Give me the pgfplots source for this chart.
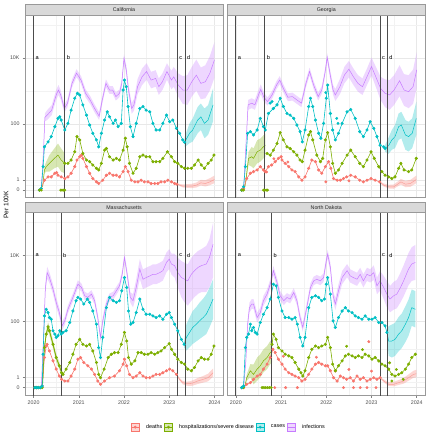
\documentclass[border=0pt]{standalone}
\usepackage{fontspec}
\setmainfont{Liberation Sans}
\usepackage{pgfplots}
\usepackage{pgfplotstable}
\pgfplotsset{compat=1.18}
\usepgfplotslibrary{fillbetween}
\definecolor{cD}{HTML}{F8766D}
\definecolor{cH}{HTML}{7CAE00}
\definecolor{cC}{HTML}{00BFC4}
\definecolor{cI}{HTML}{C77CFF}
\newcommand{\fs}{\fontsize{5.3}{6}\selectfont}
\pgfplotsset{panel/.style={
  scale only axis, width=198pt, height=182.7pt,
  xmin=2019.81, xmax=2024.19, ymin=-0.23, ymax=5.30,
  xtick={2020,2021,2022,2023,2024},
  xticklabels={2020,2021,2022,2023,2024},
  minor xtick={2020.5,2021.5,2022.5,2023.5},
  ytick={0,0.30103,2.00432,4.00004},
  yticklabels={0,1,100,10K},
  minor ytick={0.1505,1.1527,3.0022,5.0},
  grid=both,
  major grid style={color=black!9, line width=0.45pt},
  minor grid style={color=black!5, line width=0.3pt},
  axis line style={draw=black!40, line width=0.45pt},
  tick style={draw=black!50, line width=0.45pt},
  tick align=outside, major tick length=2.5pt, minor tick length=0pt,
  xtick pos=left, ytick pos=left,
  ticklabel style={font=\fs, text=black!70},
  xticklabel style={yshift=0.5pt},
  yticklabel style={xshift=0.5pt},
}}
\newcommand{\band}[4]{%
  \addplot[name path=#3u, draw=none, forget plot] table[x=x,y=hi]{#1};
  \addplot[name path=#3l, draw=none, forget plot] table[x=x,y=lo]{#1};
  \addplot[fill=#2, fill opacity=#4, draw=none, forget plot] fill between[of=#3u and #3l];}
\newcommand{\fit}[2]{\addplot[color=#2, line width=0.5pt, forget plot] table[x=x,y=y]{#1};}
\newcommand{\pts}[2]{\addplot[color=#2, line width=0.6pt, mark=*, mark size=1.25pt, mark options={draw=none, fill=#2}, forget plot] table[x=x,y=y]{#1};}
\newcommand{\xdots}[2]{\addplot[color=#2, only marks, mark=*, mark size=1.25pt, mark options={draw=none, fill=#2}, forget plot] table[x=x,y=y]{#1};}
\newcommand{\vl}[1]{\addplot[black!70, line width=1pt, forget plot] coordinates {(#1,-1) (#1,6)};}
\newcommand{\lab}[2]{\node[anchor=west, font=\fontsize{5.6}{6}\selectfont, inner sep=0pt, xshift=1.8pt] at (axis cs:#1,4.0) {#2};}

% ---------------- California ----------------
\pgfplotstableread{
x y lo hi
2020.17 0.00 0.00 0.00
2020.22 1.20 1.10 1.30
2020.25 2.20 2.08 2.32
2020.30 2.27 2.12 2.42
2020.40 2.42 2.27 2.57
2020.50 2.88 2.73 3.03
2020.55 3.03 2.88 3.18
2020.60 2.88 2.74 3.02
2020.68 2.47 2.35 2.59
2020.75 2.63 2.51 2.75
2020.85 3.23 3.11 3.35
2020.95 3.54 3.42 3.66
2021.05 3.33 3.21 3.45
2021.15 2.93 2.81 3.05
2021.25 2.73 2.61 2.85
2021.35 2.47 2.35 2.59
2021.45 2.24 2.12 2.36
2021.52 2.73 2.61 2.85
2021.60 3.23 3.11 3.35
2021.68 3.03 2.91 3.15
2021.75 3.03 2.91 3.15
2021.82 2.83 2.71 2.95
2021.90 2.93 2.81 3.05
2021.95 3.23 3.11 3.35
2022.00 3.99 3.87 4.11
2022.05 3.64 3.50 3.78
2022.10 3.03 2.88 3.18
2022.17 2.47 2.31 2.63
2022.22 2.58 2.40 2.76
2022.30 3.13 2.90 3.36
2022.40 3.43 3.18 3.68
2022.50 3.59 3.34 3.84
2022.60 3.33 3.08 3.58
2022.70 3.38 3.13 3.63
2022.77 3.13 2.88 3.38
2022.85 3.28 3.03 3.53
2022.95 3.59 3.34 3.84
2023.05 3.33 3.05 3.61
2023.10 3.43 3.13 3.73
2023.20 3.18 2.83 3.53
2023.30 3.03 2.61 3.45
2023.40 3.03 2.58 3.48
2023.50 3.28 2.83 3.73
2023.60 3.48 3.01 3.95
2023.70 3.23 2.75 3.71
2023.80 3.28 2.78 3.78
2023.90 3.54 3.02 4.06
2024.00 3.94 3.40 4.48
}\CAinf
\pgfplotstableread{
x y
2020.13 0.00
2020.17 0.05
2020.21 0.71
2020.24 1.31
2020.32 1.46
2020.39 1.62
2020.47 1.92
2020.54 2.17
2020.58 2.22
2020.61 2.12
2020.69 1.82
2020.76 2.02
2020.83 2.42
2020.91 2.78
2020.97 2.93
2021.02 2.88
2021.09 2.58
2021.17 2.27
2021.24 1.97
2021.31 1.72
2021.39 1.52
2021.44 1.31
2021.50 1.72
2021.57 2.12
2021.63 2.37
2021.68 2.22
2021.76 2.02
2021.81 2.12
2021.87 1.92
2021.94 2.02
2021.98 3.03
2022.01 3.33
2022.05 3.13
2022.09 2.53
2022.14 1.92
2022.20 1.62
2022.27 2.02
2022.35 2.47
2022.42 2.53
2022.49 2.42
2022.57 2.37
2022.64 2.02
2022.71 1.82
2022.79 1.82
2022.86 2.02
2022.94 2.27
2023.01 2.07
2023.08 2.12
2023.16 1.87
2023.23 1.72
2023.30 1.52
2023.34 1.45
}\CAc
\pgfplotstableread{
x y lo hi
2023.34 1.45 1.30 1.60
2023.45 1.72 1.42 2.02
2023.52 1.82 1.47 2.17
2023.63 2.12 1.72 2.52
2023.70 2.22 1.82 2.62
2023.78 2.02 1.57 2.47
2023.86 2.12 1.67 2.57
2023.97 2.58 2.08 3.08
}\CAcf
\pgfplotstableread{
x y lo hi
2020.20 0.10 0.10 0.10
2020.24 0.61 0.51 0.71
2020.28 0.71 0.56 0.86
2020.35 0.81 0.56 1.06
2020.46 0.96 0.66 1.26
2020.54 1.06 0.71 1.41
2020.61 0.91 0.56 1.26
2020.69 0.81 0.51 1.11
}\CAhe
\pgfplotstableread{
x y
2020.69 0.81
2020.76 0.81
2020.83 0.91
2020.91 1.16
2020.96 1.62
2021.02 1.52
2021.09 1.11
2021.17 0.91
2021.24 0.86
2021.31 0.76
2021.39 0.66
2021.44 0.61
2021.50 0.81
2021.57 1.21
2021.61 1.26
2021.68 1.01
2021.76 0.91
2021.83 0.96
2021.90 0.91
2021.98 1.21
2022.03 1.57
2022.07 1.31
2022.12 0.81
2022.20 0.51
2022.27 0.66
2022.35 1.01
2022.42 1.06
2022.49 1.01
2022.57 1.01
2022.64 0.86
2022.71 0.86
2022.79 0.86
2022.86 0.96
2022.96 1.16
2023.05 1.01
2023.12 0.86
2023.19 0.81
2023.27 0.71
2023.34 0.66
2023.41 0.66
2023.49 0.66
2023.56 0.76
2023.64 0.91
2023.71 0.76
2023.78 0.66
2023.86 0.81
2023.93 0.91
2023.99 1.06
}\CAh
\pgfplotstableread{
x y
2020.13 0.00
2020.17 0.00
2020.60 0.00
2020.63 0.00
2020.66 0.00
2020.69 0.00
}\CAhz
\pgfplotstableread{
x y
2020.13 0.00
2020.17 0.05
2020.24 0.30
2020.32 0.40
2020.39 0.40
2020.47 0.51
2020.51 0.53
2020.54 0.45
2020.61 0.40
2020.69 0.35
2020.76 0.40
2020.83 0.51
2020.91 0.71
2020.96 0.91
2021.02 1.01
2021.06 1.06
2021.09 0.96
2021.17 0.71
2021.24 0.51
2021.31 0.35
2021.39 0.25
2021.44 0.20
2021.53 0.30
2021.61 0.45
2021.68 0.51
2021.76 0.45
2021.83 0.45
2021.90 0.40
2021.98 0.56
2022.03 0.71
2022.09 0.56
2022.16 0.30
2022.24 0.25
2022.31 0.25
2022.38 0.30
2022.45 0.25
2022.53 0.25
2022.60 0.20
2022.68 0.20
2022.75 0.20
2022.82 0.25
2022.90 0.25
2022.97 0.30
2023.05 0.25
2023.12 0.20
2023.17 0.18
}\CAd
\pgfplotstableread{
x y lo hi
2023.17 0.18 0.16 0.20
2023.30 0.12 0.08 0.17
2023.40 0.12 0.07 0.18
2023.50 0.12 0.06 0.19
2023.60 0.15 0.08 0.23
2023.70 0.22 0.14 0.31
2023.80 0.20 0.11 0.30
2023.90 0.25 0.15 0.36
2024.00 0.32 0.21 0.44
}\CAdf

% ---------------- Georgia ----------------
\pgfplotstableread{
x y lo hi
2020.17 0.00 0.00 0.00
2020.22 1.30 1.20 1.40
2020.27 2.58 2.43 2.73
2020.35 2.63 2.48 2.78
2020.42 2.58 2.43 2.73
2020.50 2.88 2.73 3.03
2020.55 3.05 2.90 3.20
2020.62 2.81 2.67 2.95
2020.70 2.68 2.56 2.80
2020.80 2.88 2.76 3.00
2020.90 3.18 3.06 3.30
2020.97 3.33 3.21 3.45
2021.05 3.08 2.96 3.20
2021.15 2.81 2.69 2.93
2021.25 2.83 2.71 2.95
2021.35 2.73 2.61 2.85
2021.45 2.63 2.51 2.75
2021.55 3.23 3.11 3.35
2021.63 3.59 3.47 3.71
2021.72 3.18 3.06 3.30
2021.82 2.83 2.71 2.95
2021.90 3.03 2.91 3.15
2021.97 3.54 3.42 3.66
2022.02 4.02 3.90 4.14
2022.08 3.54 3.40 3.68
2022.15 3.03 2.88 3.18
2022.20 2.88 2.70 3.06
2022.30 3.13 2.90 3.36
2022.40 3.48 3.23 3.73
2022.50 3.66 3.41 3.91
2022.60 3.43 3.18 3.68
2022.70 3.23 2.98 3.48
2022.80 3.13 2.88 3.38
2022.90 3.43 3.18 3.68
2023.00 3.74 3.47 4.01
2023.08 3.48 3.18 3.78
2023.20 3.08 2.73 3.43
2023.30 2.93 2.51 3.35
2023.40 2.88 2.43 3.33
2023.50 3.03 2.58 3.48
2023.62 3.31 2.84 3.78
2023.72 3.03 2.55 3.51
2023.82 2.98 2.48 3.48
2023.92 3.13 2.61 3.65
2024.00 3.64 3.10 4.18
}\GAinf
\pgfplotstableread{
x y
2020.13 0.00
2020.17 0.10
2020.21 0.71
2020.26 1.72
2020.32 1.77
2020.39 1.67
2020.47 1.82
2020.54 2.17
2020.61 1.92
2020.65 1.82
2020.72 2.32
2020.83 2.47
2020.91 2.58
2020.98 2.78
2021.05 2.53
2021.13 2.32
2021.20 2.27
2021.28 2.17
2021.35 1.97
2021.42 1.77
2021.47 1.46
2021.53 1.82
2021.61 2.53
2021.65 2.78
2021.70 2.53
2021.76 2.12
2021.83 1.72
2021.88 1.57
2021.94 2.02
2022.00 2.78
2022.03 3.18
2022.09 2.32
2022.14 1.82
2022.20 1.52
2022.27 1.72
2022.35 2.02
2022.46 2.37
2022.54 2.44
2022.64 2.17
2022.74 1.77
2022.82 1.62
2022.90 1.82
2022.97 2.07
2023.05 1.87
2023.12 1.62
2023.19 1.36
2023.27 1.31
2023.30 1.26
}\GAc
\pgfplotstableread{
x y
2020.76 2.63
2020.80 2.68
2022.23 2.17
2022.26 2.02
2021.99 2.95
}\GAcx
\pgfplotstableread{
x y lo hi
2023.30 1.26 1.16 1.36
2023.38 1.35 1.10 1.60
2023.45 1.52 1.22 1.82
2023.52 1.62 1.27 1.97
2023.60 1.92 1.52 2.32
2023.66 1.97 1.57 2.37
2023.75 1.67 1.22 2.12
2023.82 1.62 1.17 2.07
2023.90 1.72 1.27 2.17
2023.99 2.17 1.67 2.67
}\GAcf
\pgfplotstableread{
x y lo hi
2020.20 0.10 0.10 0.10
2020.23 0.40 0.30 0.50
2020.28 0.96 0.76 1.16
2020.35 1.01 0.71 1.31
2020.39 0.96 0.66 1.26
2020.47 1.16 0.81 1.51
2020.54 1.21 0.86 1.56
2020.61 1.31 0.96 1.66
2020.65 1.36 1.01 1.71
}\GAhe
\pgfplotstableread{
x y
2020.69 1.11
2020.76 1.06
2020.83 1.21
2020.91 1.41
2020.98 1.74
2021.05 1.52
2021.13 1.31
2021.20 1.26
2021.28 1.16
2021.35 1.06
2021.42 0.91
2021.47 0.86
2021.53 1.21
2021.61 1.67
2021.65 1.77
2021.70 1.52
2021.79 1.06
2021.87 0.86
2021.92 0.96
2021.98 1.52
2022.03 1.74
2022.09 1.31
2022.14 0.81
2022.20 0.51
2022.27 0.61
2022.35 0.81
2022.46 1.06
2022.54 1.21
2022.64 1.01
2022.74 0.81
2022.82 0.71
2022.90 0.91
2022.99 1.16
2023.06 0.96
2023.16 0.71
2023.23 0.56
2023.30 0.45
2023.38 0.40
2023.45 0.35
2023.52 0.40
2023.60 0.66
2023.65 0.81
2023.72 0.61
2023.82 0.56
2023.89 0.61
2023.99 0.96
}\GAh
\pgfplotstableread{
x y
2020.13 0.00
2020.17 0.00
2020.61 0.00
2020.64 0.00
2020.67 0.00
2020.70 0.00
}\GAhz
\pgfplotstableread{
x y
2020.13 0.00
2020.17 0.05
2020.24 0.35
2020.32 0.51
2020.39 0.56
2020.47 0.61
2020.54 0.71
2020.61 0.61
2020.65 0.56
2020.72 0.71
2020.79 0.76
2020.87 0.86
2020.94 0.96
2021.00 1.01
2021.02 0.91
2021.09 0.81
2021.17 0.71
2021.24 0.61
2021.31 0.56
2021.39 0.40
2021.46 0.30
2021.53 0.40
2021.61 0.66
2021.68 0.91
2021.76 0.86
2021.83 0.61
2021.90 0.51
2021.98 0.71
2022.05 0.86
2022.10 0.66
2022.16 0.35
2022.24 0.30
2022.31 0.30
2022.38 0.35
2022.45 0.40
2022.54 0.45
2022.64 0.40
2022.74 0.30
2022.82 0.25
2022.90 0.30
2022.99 0.35
2023.08 0.30
2023.18 0.25
}\GAd
\pgfplotstableread{
x y
2020.84 0.95
2021.99 0.25
2020.68 0.55
2021.15 0.85
2022.50 0.28
}\GAdx
\pgfplotstableread{
x y lo hi
2023.18 0.25 0.23 0.27
2023.27 0.15 0.11 0.20
2023.38 0.10 0.05 0.16
2023.49 0.10 0.04 0.17
2023.60 0.20 0.13 0.28
2023.65 0.25 0.17 0.34
2023.75 0.18 0.09 0.28
2023.86 0.20 0.10 0.31
2023.99 0.32 0.21 0.44
}\GAdf

% ---------------- Massachusetts ----------------
\pgfplotstableread{
x y lo hi
2020.17 0.00 0.00 0.00
2020.22 1.50 1.40 1.60
2020.26 3.00 2.85 3.15
2020.30 3.48 3.30 3.66
2020.35 3.33 3.17 3.49
2020.43 2.98 2.83 3.13
2020.50 2.58 2.43 2.73
2020.57 2.27 2.13 2.41
2020.63 1.87 1.74 2.00
2020.69 2.02 1.90 2.14
2020.76 2.37 2.25 2.49
2020.87 2.73 2.61 2.85
2020.98 3.13 3.01 3.25
2021.06 3.03 2.91 3.15
2021.13 2.78 2.66 2.90
2021.20 2.73 2.61 2.85
2021.28 2.83 2.71 2.95
2021.35 2.63 2.51 2.75
2021.42 2.12 2.00 2.24
2021.48 1.52 1.40 1.64
2021.53 2.02 1.90 2.14
2021.61 2.53 2.41 2.65
2021.68 2.73 2.61 2.85
2021.76 2.78 2.66 2.90
2021.83 2.93 2.81 3.05
2021.90 3.08 2.96 3.20
2021.96 3.43 3.31 3.55
2022.01 3.94 3.82 4.06
2022.07 3.43 3.29 3.57
2022.14 2.73 2.57 2.89
2022.20 2.63 2.43 2.83
2022.27 3.03 2.78 3.28
2022.35 3.59 3.29 3.89
2022.42 3.28 2.98 3.58
2022.49 3.33 3.03 3.63
2022.57 3.38 3.08 3.68
2022.64 3.43 3.13 3.73
2022.71 3.43 3.13 3.73
2022.79 3.48 3.18 3.78
2022.86 3.54 3.24 3.84
2022.94 3.79 3.49 4.09
2023.00 3.89 3.59 4.19
2023.05 3.74 3.42 4.06
2023.12 3.69 3.33 4.05
2023.19 3.48 3.03 3.93
2023.27 3.33 2.73 3.83
2023.34 3.28 2.58 3.78
2023.41 3.23 2.48 3.73
2023.49 3.43 2.63 3.93
2023.56 3.54 2.74 4.04
2023.64 3.64 2.84 4.14
2023.71 3.69 2.89 4.19
2023.82 3.74 2.89 4.29
2023.89 3.94 3.04 4.49
2023.97 4.34 3.34 4.99
}\MAinf
\pgfplotstableread{
x y
2020.03 0.00
2020.07 0.00
2020.11 0.00
2020.15 0.00
2020.19 0.05
2020.21 1.01
2020.24 2.17
2020.28 2.37
2020.32 2.27
2020.35 2.12
2020.39 2.07
2020.43 1.72
2020.47 1.62
2020.50 1.52
2020.54 1.57
2020.58 1.72
2020.61 1.62
2020.65 1.67
2020.72 1.72
2020.80 1.97
2020.87 2.32
2020.94 2.63
2020.98 2.73
2021.04 2.68
2021.11 2.53
2021.19 2.68
2021.24 2.58
2021.31 2.32
2021.39 1.92
2021.44 1.21
2021.48 0.91
2021.53 1.52
2021.61 2.42
2021.68 2.73
2021.76 2.63
2021.83 2.58
2021.90 2.63
2021.95 2.93
2022.01 3.33
2022.06 3.03
2022.10 2.32
2022.15 1.92
2022.20 1.97
2022.27 2.27
2022.35 2.68
2022.42 2.37
2022.49 2.22
2022.57 2.22
2022.64 2.17
2022.71 2.12
2022.79 2.17
2022.86 2.07
2022.94 2.22
2023.00 2.27
2023.05 2.12
2023.12 1.92
2023.19 1.72
2023.27 1.46
2023.33 1.31
}\MAc
\pgfplotstableread{
x y lo hi
2023.33 1.31 1.21 1.41
2023.38 1.52 1.12 1.92
2023.45 1.67 1.22 2.12
2023.52 1.82 1.32 2.32
2023.60 1.92 1.40 2.44
2023.67 2.02 1.47 2.57
2023.75 2.12 1.55 2.69
2023.82 2.22 1.62 2.82
2023.89 2.42 1.82 3.02
2023.97 2.68 2.08 3.28
}\MAcf
\pgfplotstableread{
x y lo hi
2020.20 0.05 0.05 0.05
2020.24 1.21 1.11 1.31
2020.28 1.62 1.50 1.74
2020.32 1.84 1.70 1.98
2020.35 1.72 1.58 1.86
2020.43 1.31 1.18 1.44
2020.50 0.91 0.79 1.03
2020.57 0.66 0.55 0.77
2020.62 0.45 0.35 0.55
}\MAhe
\pgfplotstableread{
x y
2020.03 0.00
2020.07 0.00
2020.11 0.00
2020.15 0.00
2020.19 0.00
2020.24 1.21
2020.28 1.62
2020.32 1.84
2020.35 1.72
2020.43 1.31
2020.50 0.91
2020.57 0.66
2020.62 0.45
2020.65 0.40
2020.72 0.56
2020.80 0.76
2020.87 1.01
2020.94 1.31
2021.02 1.46
2021.09 1.31
2021.17 1.26
2021.24 1.31
2021.31 1.11
2021.39 0.76
2021.44 0.40
2021.48 0.30
2021.56 0.56
2021.65 0.91
2021.72 1.01
2021.79 1.06
2021.87 1.06
2021.94 1.31
2022.01 1.67
2022.06 1.41
2022.10 0.91
2022.16 0.71
2022.24 0.81
2022.31 1.06
2022.38 1.06
2022.45 1.01
2022.53 1.01
2022.60 1.06
2022.68 1.01
2022.75 1.06
2022.82 1.11
2022.90 1.21
2023.00 1.33
2023.05 1.16
2023.12 1.01
2023.19 0.86
2023.27 0.76
2023.34 0.71
2023.41 0.56
2023.49 0.51
2023.56 0.61
2023.64 0.81
2023.71 0.91
2023.78 0.86
2023.86 0.86
2023.93 1.01
2023.99 1.26
}\MAh
\pgfplotstableread{
x y
2020.03 0.00
2020.07 0.00
2020.11 0.00
2020.15 0.00
2020.19 0.05
2020.24 0.91
2020.28 1.26
2020.30 1.31
2020.35 1.11
2020.43 0.81
2020.50 0.56
2020.57 0.35
2020.62 0.25
2020.69 0.20
2020.76 0.20
2020.83 0.35
2020.91 0.56
2020.98 0.86
2021.04 0.91
2021.11 0.76
2021.20 0.66
2021.28 0.56
2021.35 0.40
2021.42 0.20
2021.48 0.10
2021.57 0.20
2021.68 0.30
2021.79 0.35
2021.90 0.51
2021.98 0.71
2022.01 0.86
2022.06 0.66
2022.12 0.40
2022.20 0.30
2022.27 0.35
2022.35 0.45
2022.42 0.35
2022.49 0.30
2022.57 0.30
2022.64 0.35
2022.71 0.40
2022.79 0.40
2022.86 0.45
2022.94 0.51
2023.01 0.56
2023.08 0.51
2023.16 0.40
}\MAd
\pgfplotstableread{
x y lo hi
2023.16 0.40 0.38 0.42
2023.23 0.25 0.21 0.29
2023.30 0.15 0.10 0.20
2023.38 0.12 0.06 0.18
2023.45 0.12 0.05 0.19
2023.52 0.14 0.06 0.22
2023.63 0.20 0.11 0.29
2023.75 0.25 0.15 0.35
2023.86 0.30 0.19 0.42
2023.97 0.45 0.33 0.58
}\MAdf

% ---------------- North Dakota ----------------
\pgfplotstableread{
x y lo hi
2020.17 0.00 0.00 0.00
2020.22 0.80 0.70 0.90
2020.26 1.92 1.77 2.07
2020.30 2.42 2.27 2.57
2020.35 2.53 2.38 2.68
2020.39 2.53 2.38 2.68
2020.47 2.12 1.97 2.27
2020.54 2.27 2.12 2.42
2020.61 2.63 2.48 2.78
2020.69 2.83 2.68 2.98
2020.76 3.13 2.99 3.27
2020.83 3.54 3.40 3.68
2020.91 3.18 3.04 3.32
2020.98 2.78 2.64 2.92
2021.06 2.63 2.50 2.76
2021.13 2.73 2.60 2.86
2021.20 2.68 2.55 2.81
2021.28 2.88 2.75 3.01
2021.35 2.63 2.50 2.76
2021.42 2.12 1.99 2.25
2021.48 1.82 1.69 1.95
2021.56 2.37 2.24 2.50
2021.65 3.03 2.90 3.16
2021.72 3.23 3.10 3.36
2021.79 3.28 3.15 3.41
2021.87 3.23 3.10 3.36
2021.94 3.33 3.20 3.46
2022.00 3.84 3.71 3.97
2022.03 4.04 3.91 4.17
2022.09 3.64 3.50 3.78
2022.15 2.78 2.63 2.93
2022.20 2.53 2.35 2.71
2022.27 2.93 2.73 3.13
2022.35 3.33 3.13 3.53
2022.46 3.54 3.34 3.74
2022.53 3.38 3.18 3.58
2022.60 3.33 3.13 3.53
2022.68 3.28 3.08 3.48
2022.75 3.43 3.23 3.63
2022.82 3.23 3.03 3.43
2022.90 3.43 3.23 3.63
2022.97 3.38 3.18 3.58
2023.05 3.48 3.26 3.70
2023.12 3.08 2.83 3.33
2023.19 3.23 2.93 3.53
2023.27 3.03 2.68 3.38
2023.34 2.83 2.43 3.23
2023.41 2.68 2.28 3.08
2023.49 2.78 2.36 3.20
2023.56 2.83 2.40 3.26
2023.64 3.03 2.58 3.48
2023.71 3.23 2.76 3.70
2023.82 3.59 3.10 4.08
2023.89 3.74 3.23 4.25
2023.97 3.79 3.26 4.32
}\NDinf
\pgfplotstableread{
x y
2020.13 0.00
2020.17 0.05
2020.21 1.21
2020.24 1.52
2020.28 1.62
2020.32 1.92
2020.35 1.72
2020.39 1.82
2020.43 1.67
2020.47 1.62
2020.54 1.97
2020.61 2.22
2020.69 2.42
2020.76 2.68
2020.83 3.13
2020.89 3.08
2020.94 2.73
2021.02 2.32
2021.09 2.12
2021.17 2.12
2021.24 2.07
2021.31 2.12
2021.36 1.92
2021.42 1.52
2021.48 1.26
2021.53 1.52
2021.61 2.42
2021.68 2.73
2021.76 2.78
2021.83 2.73
2021.90 2.63
2021.96 2.68
2022.00 3.13
2022.03 3.33
2022.09 2.83
2022.15 2.02
2022.20 1.82
2022.27 2.12
2022.35 2.32
2022.42 2.42
2022.49 2.32
2022.57 2.27
2022.64 2.17
2022.71 2.12
2022.79 2.07
2022.86 2.17
2022.94 2.07
2023.01 2.07
2023.08 2.12
2023.16 1.97
2023.23 1.97
2023.30 1.87
2023.34 1.67
}\NDc
\pgfplotstableread{
x y lo hi
2023.34 1.67 1.57 1.77
2023.38 1.41 0.96 1.86
2023.45 1.41 0.91 1.91
2023.52 1.46 0.96 1.96
2023.60 1.62 1.10 2.14
2023.67 1.72 1.20 2.24
2023.75 1.92 1.38 2.46
2023.82 2.12 1.57 2.67
2023.89 2.42 1.87 2.97
2023.97 2.37 1.82 2.92
}\NDcf
\pgfplotstableread{
x y lo hi
2020.20 0.05 0.05 0.05
2020.24 0.30 0.20 0.40
2020.32 0.51 0.31 0.71
2020.39 0.40 0.10 0.70
2020.47 0.56 0.21 0.91
2020.54 0.66 0.31 1.01
2020.61 0.81 0.46 1.16
2020.69 0.91 0.56 1.26
2020.76 1.06 0.71 1.41
2020.80 1.11 0.76 1.46
}\NDhe
\pgfplotstableread{
x y
2020.80 1.31
2020.83 1.62
2020.89 1.46
2020.94 1.21
2021.02 1.11
2021.09 1.01
2021.17 0.96
2021.24 0.91
2021.31 0.76
2021.39 0.56
2021.44 0.45
2021.48 0.35
2021.53 0.51
2021.61 0.91
2021.68 1.16
2021.76 1.26
2021.83 1.21
2021.90 1.26
2021.98 1.31
2022.03 1.52
2022.09 1.21
2022.14 0.71
2022.20 0.51
2022.27 0.66
2022.35 0.81
2022.42 0.96
2022.49 1.01
2022.57 0.96
2022.64 0.91
2022.71 0.96
2022.79 0.91
2022.86 1.01
2022.94 0.96
2023.01 0.86
2023.08 0.91
2023.16 0.81
2023.23 0.71
2023.30 0.66
2023.38 0.56
2023.45 0.40
2023.52 0.35
2023.60 0.40
2023.67 0.45
2023.75 0.56
2023.82 0.71
2023.89 0.91
2023.97 1.01
}\NDh
\pgfplotstableread{
x y
2020.13 0.00
2020.17 0.00
2020.58 0.00
2020.62 0.00
2020.66 0.00
2020.70 0.00
2020.74 0.00
2020.78 0.00
2022.45 1.25
2022.80 1.15
2023.45 0.20
2023.55 0.55
2023.70 0.25
2023.40 0.75
}\NDhx
\pgfplotstableread{
x y
2020.13 0.00
2020.17 0.00
2020.24 0.10
2020.32 0.15
2020.39 0.25
2020.47 0.35
2020.54 0.40
2020.61 0.56
2020.69 0.71
2020.76 0.91
2020.82 1.16
2020.87 1.06
2020.94 0.86
2021.02 0.71
2021.09 0.56
2021.17 0.45
2021.24 0.40
2021.31 0.35
2021.39 0.30
2021.46 0.20
2021.53 0.25
2021.61 0.40
2021.68 0.56
2021.76 0.71
2021.83 0.76
2021.90 0.71
2021.98 0.66
2022.03 0.66
2022.09 0.51
2022.16 0.30
2022.24 0.20
2022.31 0.35
2022.38 0.30
2022.45 0.25
2022.53 0.30
2022.60 0.20
2022.68 0.35
2022.75 0.25
2022.82 0.30
2022.90 0.20
2022.97 0.25
2023.05 0.30
2023.12 0.25
2023.19 0.30
}\NDd
\pgfplotstableread{
x y
2020.86 0.00
2021.10 0.00
2021.36 0.00
2022.38 0.00
2022.60 0.00
2022.75 0.00
2022.90 0.00
2023.10 0.00
2022.94 1.39
2021.05 0.95
2021.78 0.92
2022.50 0.55
2023.00 0.50
2022.20 0.50
}\NDdx
\pgfplotstableread{
x y lo hi
2023.19 0.30 0.28 0.32
2023.27 0.20 0.16 0.25
2023.38 0.10 0.05 0.16
2023.49 0.10 0.04 0.17
2023.60 0.15 0.08 0.23
2023.71 0.20 0.12 0.29
2023.82 0.30 0.21 0.40
2023.93 0.40 0.30 0.51
2023.99 0.42 0.31 0.54
}\NDdf

\begin{document}
\begin{tikzpicture}

% ===== California =====
\begin{axis}[panel, name=ca, at={(25pt,-15pt)}, anchor=north west,
  xticklabels={}, xtick style={draw=none}]
\band{\CAinf}{cI}{ia}{0.3}
\band{\CAcf}{cC}{ca}{0.3}
\band{\CAhe}{cH}{ha}{0.3}
\band{\CAdf}{cD}{da}{0.3}
\fit{\CAinf}{cI}
\fit{\CAcf}{cC}
\fit{\CAhe}{cH}
\fit{\CAdf}{cD!70}
\pts{\CAd}{cD}
\pts{\CAh}{cH}
\pts{\CAc}{cC}
\xdots{\CAhz}{cH}
\vl{2020.0}\vl{2020.69}\vl{2023.18}\vl{2023.35}
\lab{2020.0}{a}\lab{2020.69}{b}\lab{2023.18}{c}\lab{2023.35}{d}
\end{axis}

% ===== Georgia =====
\begin{axis}[panel, name=ga, at={(227.3pt,-15pt)}, anchor=north west,
  xticklabels={}, xtick style={draw=none}, yticklabels={}, ytick style={draw=none}]
\band{\GAinf}{cI}{ia}{0.3}
\band{\GAcf}{cC}{ca}{0.3}
\band{\GAhe}{cH}{ha}{0.3}
\band{\GAdf}{cD}{da}{0.3}
\fit{\GAinf}{cI}
\fit{\GAcf}{cC}
\fit{\GAhe}{cH}
\fit{\GAdf}{cD!70}
\pts{\GAd}{cD}
\xdots{\GAdx}{cD}
\pts{\GAh}{cH}
\pts{\GAc}{cC}
\xdots{\GAcx}{cC}
\xdots{\GAhz}{cH}
\vl{2020.0}\vl{2020.64}\vl{2023.19}\vl{2023.35}
\lab{2020.0}{a}\lab{2020.64}{b}\lab{2023.19}{c}\lab{2023.35}{d}
\end{axis}

% ===== Massachusetts =====
\begin{axis}[panel, name=ma, at={(25pt,-212.5pt)}, anchor=north west,
  legend style={at={(1.03,-0.175)}, anchor=center, legend columns=4, draw=none, fill=none,
    font=\fontsize{5.4}{6}\selectfont, inner sep=0pt,
    /tikz/every odd column/.append style={column sep=4.5pt}},
  legend cell align=left]
\band{\MAinf}{cI}{ia}{0.3}
\band{\MAcf}{cC}{ca}{0.3}
\band{\MAhe}{cH}{ha}{0.3}
\band{\MAdf}{cD}{da}{0.3}
\fit{\MAinf}{cI}
\fit{\MAcf}{cC}
\fit{\MAhe}{cH}
\fit{\MAdf}{cD!70}
\pts{\MAd}{cD}
\pts{\MAh}{cH}
\pts{\MAc}{cC}
\vl{2020.0}\vl{2020.61}\vl{2023.18}\vl{2023.35}
\lab{2020.0}{a}\lab{2020.61}{b}\lab{2023.18}{c}\lab{2023.35}{d}
\addlegendimage{legend image code/.code={\fill[cD,fill opacity=0.3](0pt,-4pt) rectangle (8pt,4pt);\draw[cD,line width=0.5pt](0pt,0pt)--(8pt,0pt);\fill[cD](4pt,0pt) circle (1.2pt);}}
\addlegendentry{deaths}
\addlegendimage{legend image code/.code={\fill[cH,fill opacity=0.3](0pt,-4pt) rectangle (8pt,4pt);\draw[cH,line width=0.5pt](0pt,0pt)--(8pt,0pt);\fill[cH](4pt,0pt) circle (1.2pt);}}
\addlegendentry{hospitalizations/severe disease}
\addlegendimage{legend image code/.code={\fill[cC,fill opacity=0.3](0pt,-4pt) rectangle (8pt,4pt);\draw[cC,line width=0.5pt](0pt,0pt)--(8pt,0pt);\fill[cC](4pt,0pt) circle (1.2pt);}}
\addlegendentry{cases}
\addlegendimage{legend image code/.code={\fill[cI,fill opacity=0.3](0pt,-4pt) rectangle (8pt,4pt);\draw[cI,line width=0.5pt](0pt,0pt)--(8pt,0pt);}}
\addlegendentry{infections}
\end{axis}

% ===== North Dakota =====
\begin{axis}[panel, name=nd, at={(227.3pt,-212.5pt)}, anchor=north west,
  yticklabels={}, ytick style={draw=none}]
\band{\NDinf}{cI}{ia}{0.3}
\band{\NDcf}{cC}{ca}{0.3}
\band{\NDhe}{cH}{ha}{0.3}
\band{\NDdf}{cD}{da}{0.3}
\fit{\NDinf}{cI}
\fit{\NDcf}{cC}
\fit{\NDhe}{cH}
\fit{\NDdf}{cD!70}
\pts{\NDd}{cD}
\xdots{\NDdx}{cD}
\pts{\NDh}{cH}
\xdots{\NDhx}{cH}
\pts{\NDc}{cC}
\vl{2020.0}\vl{2020.79}\vl{2023.19}\vl{2023.35}
\lab{2020.0}{a}\lab{2020.79}{b}\lab{2023.19}{c}\lab{2023.35}{d}
\end{axis}

% strips
\foreach \nm/\tx in {ca/California, ga/Georgia, ma/Massachusetts, nd/North Dakota}{
  \draw[fill=black!15, draw=black!40, line width=0.45pt] (\nm.north west) rectangle ([yshift=10.5pt]\nm.north east);
  \node[font=\fs, text=black!85, inner sep=0pt] at ([yshift=5.25pt]\nm.north) {\tx};
}
\node[rotate=90, font=\fontsize{6.6}{7}\selectfont, inner sep=0pt] at (6pt,-205pt) {Per 100K};
\path (0,0) rectangle (429pt,-440pt);
\end{tikzpicture}
\end{document}
